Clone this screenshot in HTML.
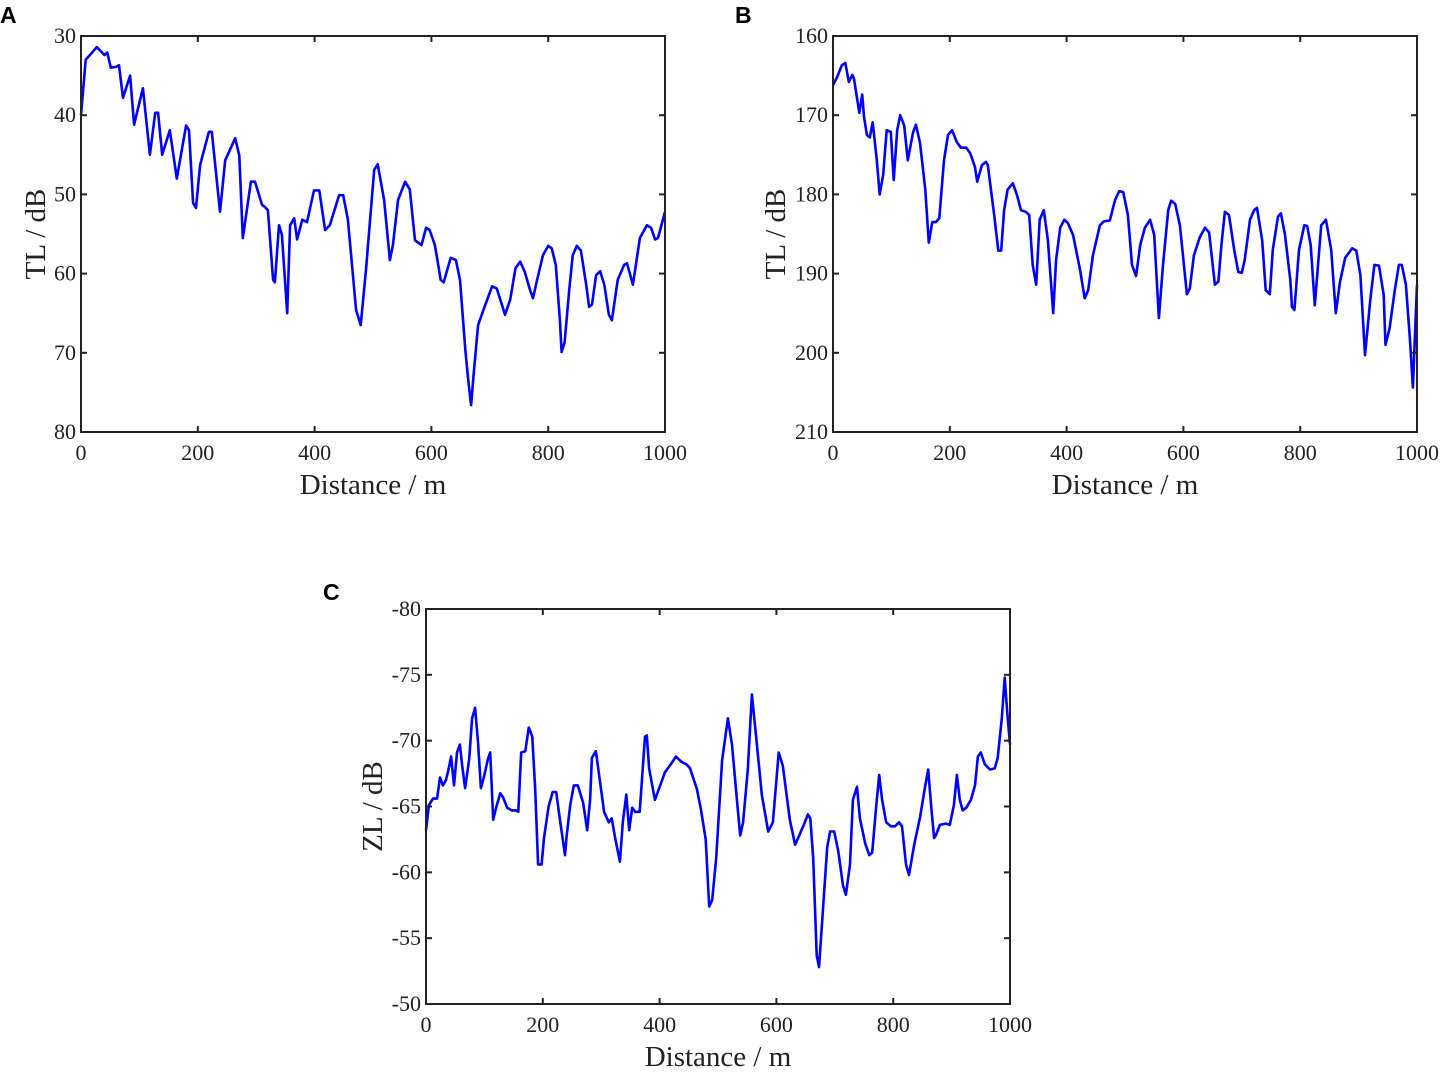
<!DOCTYPE html>
<html><head><meta charset="utf-8"><style>
html,body{margin:0;padding:0;background:#fff;}
svg text{font-family:"Liberation Serif",serif;fill:#222;}
.pl{font-family:"Liberation Sans",Arial,sans-serif !important;font-weight:bold;fill:#000;}
</style></head><body>
<svg id="fig" width="1443" height="1071" viewBox="0 0 1443 1071" xmlns="http://www.w3.org/2000/svg"></svg>
<script>
const distA=[0,8,27,40,45,51,60,65,72,84,91,106,118,127,132,139,152,164,180,185,192,197,204,219,224,238,247,264,271,277,291,298,310,315,320,329,332,339,344,353,358,365,370,379,387,399,408,418,426,442,449,457,471,479,488,502,508,519,529,534,543,555,563,572,583,591,597,606,616,621,633,642,649,658,663,668,673,680,692,704,712,721,726,735,744,752,760,769,774,781,791,800,806,813,820,823,828,836,842,849,856,865,870,875,882,889,896,904,909,919,930,935,945,957,969,976,983,988,1000];
const tlA=[40,33,31.4,32.4,32.1,34,33.9,33.7,37.8,35,41.2,36.6,45,39.7,39.7,45,41.9,48,41.3,41.9,51.1,51.7,46.3,42.1,42.1,52.2,45.7,42.9,45.1,55.5,48.4,48.4,51.3,51.6,52,60.8,61.1,53.9,55.1,65,53.9,53,55.7,53.2,53.5,49.5,49.5,54.5,53.9,50.1,50.1,53.2,64.6,66.5,59.5,46.9,46.2,50.7,58.3,56.4,50.7,48.4,49.4,55.8,56.4,54.2,54.5,56.4,60.8,61.1,58,58.3,60.8,69.6,73.4,76.6,72.2,66.5,64,61.6,61.9,64,65.2,63.3,59.3,58.5,59.8,62.1,63.1,60.8,57.7,56.5,56.8,58.9,65.9,69.9,68.7,62.1,57.7,56.5,57.1,61.4,64.2,63.9,60.2,59.7,61.4,65.2,65.9,60.8,58.9,58.7,61.4,55.5,53.9,54.2,55.7,55.5,52.2];
const distB=[0,7,15,21,27,33,36,45,50,53,58,63,68,75,80,86,92,99,104,110,115,122,128,137,142,149,158,164,170,176,182,190,197,204,212,219,228,235,243,247,255,262,265,276,283,288,293,299,308,315,322,330,336,342,348,354,361,368,377,382,389,396,402,411,423,431,437,445,457,464,474,483,490,497,505,512,519,526,534,543,550,558,565,574,579,586,594,606,611,618,628,637,644,654,660,665,671,678,687,694,700,705,714,721,726,735,741,748,753,762,767,774,783,786,790,798,807,812,818,825,836,844,853,861,868,877,889,896,903,911,920,927,935,943,946,953,962,969,974,981,988,993,997,1000];
const tlB=[166.2,165.2,163.7,163.4,165.8,164.9,165.4,169.7,167.4,170.2,172.5,172.8,170.9,175.7,180,177.5,171.9,172.1,178.2,171.9,170,171.3,175.7,172.2,171.2,173.5,179.4,186.1,183.5,183.5,183,175.7,172.5,171.9,173.4,174.1,174.1,174.8,176.5,178.4,176.3,175.9,176.3,182.6,187.1,187.1,182,179.4,178.6,180.1,182,182.2,182.6,188.9,191.4,183.2,182,185.8,195,188.3,184.2,183.2,183.6,185.1,189.5,193.1,192.1,187.7,183.9,183.4,183.3,180.7,179.6,179.7,182.6,188.9,190.3,186.4,184.2,183.2,185.1,195.6,188.9,182,180.8,181.2,183.9,192.6,191.9,187.7,185.4,184.2,184.8,191.4,191,186.4,182.2,182.6,187,189.8,189.9,188.3,183.2,182,181.7,185.8,192.1,192.6,187,182.8,182.4,185.1,190.8,194.2,194.6,187,183.9,184,186.4,194,183.9,183.2,187,195,191.1,188,186.8,187.1,190.2,200.3,193.3,188.9,189,192.7,199,196.9,192.1,188.9,188.9,191.4,198.4,204.4,197.1,191.4];
const distC=[0,5,12,19,24,29,34,39,43,48,53,58,62,67,74,79,84,89,94,99,106,110,115,120,127,132,139,147,154,158,163,170,176,182,187,192,198,202,210,217,223,228,238,241,247,253,260,269,276,281,284,291,296,305,313,318,324,332,337,343,348,353,358,366,375,378,382,392,401,409,419,428,437,446,452,464,471,479,485,490,497,507,517,524,531,538,543,551,558,565,575,586,594,604,611,623,632,639,647,654,658,663,669,673,678,687,692,699,706,714,719,726,731,738,743,752,759,764,771,776,781,788,796,803,810,815,822,827,836,846,855,860,865,870,873,880,890,897,904,909,914,919,925,933,940,945,950,957,966,974,979,986,991,995,1000];
const zlC=[-63.2,-65.1,-65.6,-65.6,-67.2,-66.6,-67,-67.9,-68.8,-66.6,-69.1,-69.7,-68.1,-66.4,-68.6,-71.7,-72.5,-69.9,-66.4,-67.2,-68.6,-69.1,-64,-64.9,-66,-65.7,-64.9,-64.7,-64.7,-64.6,-69.1,-69.2,-71,-70.3,-66.3,-60.6,-60.6,-62.6,-65,-66.1,-66.1,-64.4,-61.3,-62.8,-65.1,-66.6,-66.6,-65.3,-63.2,-65.5,-68.7,-69.2,-67.5,-64.6,-63.8,-64.1,-62.6,-60.8,-63.8,-65.9,-63.2,-64.9,-64.6,-64.6,-70.3,-70.4,-67.9,-65.5,-66.6,-67.6,-68.2,-68.8,-68.4,-68.2,-67.9,-66.3,-64.7,-62.5,-57.4,-57.9,-61.1,-68.5,-71.7,-69.7,-66.2,-62.8,-63.8,-67.8,-73.5,-70.4,-65.9,-63.1,-63.8,-69.1,-68.1,-64,-62.1,-62.8,-63.6,-64.4,-64.1,-61.1,-53.7,-52.8,-56.1,-61.9,-63.1,-63.1,-61.6,-59,-58.3,-60.6,-65.5,-66.5,-64.1,-62.2,-61.3,-61.5,-65.1,-67.4,-65.5,-63.8,-63.5,-63.5,-63.8,-63.5,-60.6,-59.8,-62.1,-64.2,-66.6,-67.8,-65,-62.6,-62.8,-63.6,-63.7,-63.6,-65.1,-67.4,-65.5,-64.7,-64.9,-65.5,-66.6,-68.8,-69.1,-68.2,-67.8,-67.9,-68.7,-71.7,-74.8,-72.3,-69.7];
const xTicks=[0,200,400,600,800,1000];
const yTicksA=[30,40,50,60,70,80];
const yTicksB=[160,170,180,190,200,210];
const yTicksC=[-80,-75,-70,-65,-60,-55,-50];

const svg=document.getElementById('fig');
const NS='http://www.w3.org/2000/svg';
function mk(tag,attrs,parent){const e=document.createElementNS(NS,tag);for(const k in attrs)e.setAttribute(k,attrs[k]);(parent||svg).appendChild(e);return e;}

function panel(id,letter,lx,ly,L,T,R,B,ymin,ymax,yTicks,ytitle,xs,ys,yOff){
  const g=mk('g',{});
  
  
  const sx=v=>L+(v-0)/1000*(R-L);
  const sy=v=>T+(v-ymin)/(ymax-ymin)*(B-T);
  const lab=mk('text',{x:lx,y:ly,'font-size':23,class:'pl'},g);lab.textContent=letter;
  
  
  let d='';
  for(let i=0;i<xs.length;i++)d+=(i?'L':'M')+sx(xs[i]).toFixed(1)+','+sy(ys[i]).toFixed(1);
  const line=mk('path',{d:d,fill:'none',stroke:'#0000ff','stroke-width':2.6,'stroke-linejoin':'round'},g);
  
  
  const box=mk('rect',{x:L,y:T,width:R-L,height:B-T,fill:'none',stroke:'#222','stroke-width':2},g);
  
  
  xTicks.forEach(v=>{
    const x=sx(v);
    mk('line',{x1:x,y1:B,x2:x,y2:B-6,stroke:'#222','stroke-width':2},g);
    mk('line',{x1:x,y1:T,x2:x,y2:T+6,stroke:'#222','stroke-width':2},g);
    const t=mk('text',{x:x,y:B+28,'font-size':22,'text-anchor':'middle'},g);t.textContent=v;
    
    
  });
  yTicks.forEach(v=>{
    const y=sy(v);
    mk('line',{x1:L,y1:y,x2:L+6,y2:y,stroke:'#222','stroke-width':2},g);
    mk('line',{x1:R,y1:y,x2:R-6,y2:y,stroke:'#222','stroke-width':2},g);
    const t=mk('text',{x:L-5,y:y+7,'font-size':22,'text-anchor':'end'},g);t.textContent=v;
    
    
  });
  const xt=mk('text',{x:(L+R)/2,y:B+62,'font-size':29,'text-anchor':'middle'},g);xt.textContent='Distance / m';
  
  
  const yx=L-yOff,yy=(T+B)/2;
  const yt=mk('text',{x:yx,y:yy,'font-size':29,'text-anchor':'middle',transform:'rotate(-90 '+yx+' '+yy+')'},g);yt.textContent=ytitle;
  
  
}
panel('a','A',0,23,81,36,665,432,30,80,yTicksA,'TL / dB',distA,tlA,36);
panel('b','B',735,23,833,36,1417,432,160,210,yTicksB,'TL / dB',distB,tlB,48);
panel('c','C',323,600,426,609,1010,1004,-80,-50,yTicksC,'ZL / dB',distC,zlC,44);
</script>
</body></html>
